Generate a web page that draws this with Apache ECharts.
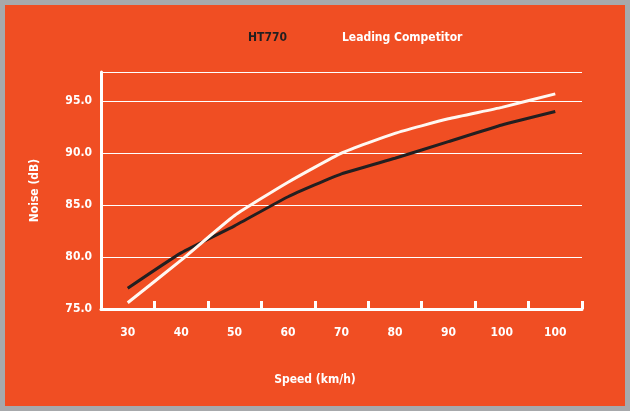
<!DOCTYPE html>
<html>
<head>
<meta charset="utf-8">
<script src="https://cdn.jsdelivr.net/npm/echarts@6/dist/echarts.min.js"></script>
<style>
html,body{margin:0;padding:0;background:#a7a9ac;}
#wrap{width:630px;height:411px;box-sizing:border-box;padding:5px;background:#a7a9ac;}
#chart{width:620px;height:401px;background:#f04e23;}
</style>
</head>
<body>
<div id="wrap"><div id="chart"></div></div>
<script>
const speedLabels = ['30','40','50','60','70','80','90','100','100'];
const ht770 = [77.0, 80.4, 83.0, 85.8, 88.0, 89.5, 91.1, 92.7, 94.0];
const competitor = [75.6, 79.7, 84.0, 87.2, 90.0, 91.9, 93.3, 94.4, 95.7];
const yTicks = { min: 75, max: 97.8, interval: 5 };

const font = '"DejaVu Sans Condensed", "Liberation Sans Narrow", sans-serif';
const chart = echarts.init(document.getElementById('chart'));
chart.setOption({
  backgroundColor: '#f04e23',
  textStyle: { fontFamily: font, fontWeight: 'bold' },
  legend: {
    top: 22, left: 233,
    itemWidth: 0, itemHeight: 0, itemGap: 50,
    icon: 'rect',
    data: [
      { name: 'HT770', textStyle: { color: '#231f20' } },
      { name: 'Leading Competitor', textStyle: { color: '#ffffff' } }
    ],
    textStyle: { fontFamily: font, fontWeight: 'bold', fontSize: 12 }
  },
  grid: { left: 96, right: 43, top: 67, bottom: 97 },
  xAxis: {
    type: 'category',
    data: speedLabels,
    boundaryGap: true,
    name: 'Speed (km/h)',
    nameLocation: 'middle',
    nameGap: 65,
    nameTextStyle: { color: '#fff', fontFamily: font, fontWeight: 'bold', fontSize: 12, padding: [0, 53, 0, 0] },
    axisLine: { lineStyle: { color: '#fff', width: 3 } },
    axisTick: { show: true, inside: true, length: 8, lineStyle: { color: '#fff', width: 3 } },
    axisLabel: { color: '#fff', fontFamily: font, fontWeight: 'bold', fontSize: 12, margin: 18 },
    splitLine: { show: false }
  },
  yAxis: {
    type: 'value',
    min: yTicks.min, max: yTicks.max, interval: yTicks.interval,
    name: 'Noise (dB)',
    nameLocation: 'middle',
    nameGap: 60,
    nameRotate: 90,
    nameTextStyle: { color: '#fff', fontFamily: font, fontWeight: 'bold', fontSize: 12 },
    axisLine: { show: true, lineStyle: { color: '#fff', width: 3 } },
    axisTick: { show: false },
    axisLabel: { color: '#fff', fontFamily: font, fontWeight: 'bold', fontSize: 12, margin: 9, showMaxLabel: false,
      formatter: v => (v % 5 === 0 ? v.toFixed(1) : '') },
    splitLine: { show: true, lineStyle: { color: '#fff', width: 1 } }
  },
  series: [
    { name: 'HT770', type: 'line', data: ht770, smooth: 0.15, symbol: 'none',
      lineStyle: { color: '#231f20', width: 3 }, itemStyle: { color: '#231f20' } },
    { name: 'Leading Competitor', type: 'line', data: competitor, smooth: 0.15, symbol: 'none',
      lineStyle: { color: '#fff8f2', width: 3 }, itemStyle: { color: '#fff8f2' } }
  ]
});
</script>
</body>
</html>
